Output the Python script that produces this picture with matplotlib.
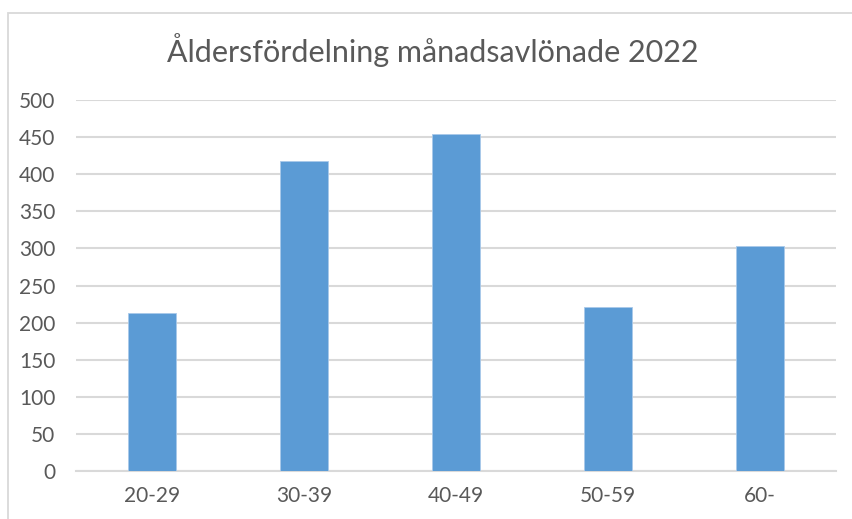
import matplotlib.pyplot as plt
from matplotlib.patches import Rectangle

plt.rcParams['font.family'] = ['Lato', 'DejaVu Sans']

# Antal månadsavlönade per åldersgrupp
aldersgrupper = ['20-29', '30-39', '40-49', '50-59', '60-']
antal = [213, 418, 454, 221, 303]
y_ticks = list(range(0, 501, 50))

textfarg = '#595959'
gridfarg = '#d9d9d9'
stapelfarg = '#5b9bd5'

fig = plt.figure(figsize=(8.53, 5.19), dpi=100)

# Diagramram (vänster- och överkant)
fig.patches.append(Rectangle((8 / 853, -0.1), 1.2, 1 - 13 / 519 + 0.1,
                             transform=fig.transFigure, fill=False,
                             edgecolor=gridfarg, linewidth=1.3))

ax = fig.add_axes([76 / 853, 48 / 519, 760 / 853, 371 / 519])
x = range(len(aldersgrupper))
ax.bar(x, antal, width=0.313, color=stapelfarg, edgecolor='#a9c9ea',
       linewidth=0.6, zorder=3)

ax.set_xlim(-0.5, len(aldersgrupper) - 0.5)
ax.set_ylim(0, 500)
ax.set_yticks(y_ticks)
ax.set_xticks(list(x))
ax.set_xticklabels(aldersgrupper)

ax.grid(axis='y', color=gridfarg, linewidth=1.5, zorder=0)
for side in ['top', 'right', 'left']:
    ax.spines[side].set_visible(False)
ax.spines['bottom'].set_color(gridfarg)
ax.spines['bottom'].set_linewidth(1.5)
ax.tick_params(axis='both', length=0, labelsize=15, colors=textfarg)
ax.tick_params(axis='y', pad=15)
ax.tick_params(axis='x', pad=11)

fig.text(433 / 853, 1 - 50 / 519, 'Åldersfördelning månadsavlönade 2022',
         ha='center', va='center', fontsize=22, color=textfarg)

fig.savefig('out.png', dpi=100, facecolor='white')
